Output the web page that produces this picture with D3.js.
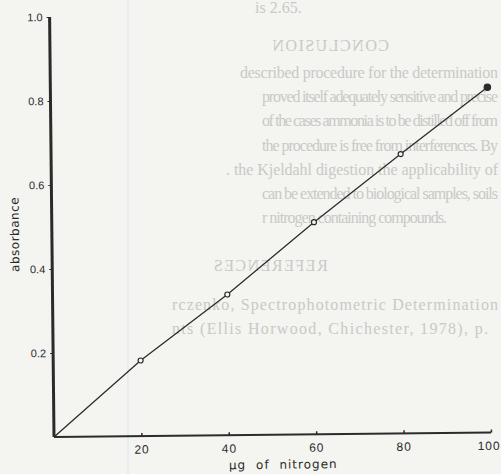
<!DOCTYPE html>
<html>
<head>
<meta charset="utf-8">
<script src="https://cdn.jsdelivr.net/npm/d3@7"></script>
<style>
  html, body { margin: 0; padding: 0; background: #f4f4f1; }
  svg { display: block; }
</style>
</head>
<body>
<svg id="chart"></svg>
<script>
// calibration data
var nitrogen = [0, 20, 40, 60, 80, 100];           // ug of nitrogen
var absorbance = [0, 0.18, 0.335, 0.505, 0.665, 0.822];
var xTicks = [20, 40, 60, 80, 100];
var yTicks = [0.2, 0.4, 0.6, 0.8, 1.0];

// text from the other side of the page that shows through the paper
var bleedLines = [
    "described procedure for the determination",
    "proved itself adequately sensitive and precise",
    "of the cases ammonia is to be distilled off from",
    "the procedure is free from interferences. By",
    ". the Kjeldahl digestion the applicability of",
    "can be extended to biological samples, soils",
    "r nitrogen containing compounds."
];
var refLines = [
    "rczenko, Spectrophotometric Determination",
    "nts (Ellis Horwood, Chichester, 1978), p."
];

var width = 501,
    height = 474,
    mLeft = 54,
    mRight = 491,
    mTop = 17,
    mBottom = 437;

var svg = d3.select("#chart")
    .attr("width", width)
    .attr("height", height);

svg.append("rect")
    .attr("width", width)
    .attr("height", height)
    .style("fill", "#f4f4f1");

// faint blue ruling line of the scan
svg.append("line")
    .attr("x1", 128).attr("x2", 128)
    .attr("y1", 0).attr("y2", height)
    .style("stroke", "#dcedf2")
    .style("stroke-width", 1.5);

var bleed = svg.append("g")
    .style("font-family", "'Liberation Serif', serif")
    .style("font-size", "16px")
    .style("fill", "#c9c9c6");

bleed.append("text")
    .attr("x", 255).attr("y", 13)
    .text("is 2.65.");

function mirrored(txt, cx, y) {
    bleed.append("text")
        .attr("transform", "translate(" + cx + "," + y + ") scale(-1,1)")
        .attr("text-anchor", "middle")
        .style("letter-spacing", "1.5px")
        .text(txt);
}
mirrored("CONCLUSION", 330, 51);
mirrored("REFERENCES", 270, 271);

bleed.selectAll("text.body")
    .data(bleedLines)
    .enter()
    .append("text")
    .attr("class", "body")
    .attr("x", function (d, i) { return i === 0 ? 240 : (i === 4 ? 226 : 262); })
    .attr("y", function (d, i) { return 78 + i * 24.2; })
    .attr("textLength", function (d, i) { return i === 6 ? 185 : (i === 0 ? 258 : (i === 4 ? 272 : 236)); })
    .attr("lengthAdjust", "spacing")
    .text(function (d) { return d; });

bleed.selectAll("text.ref")
    .data(refLines)
    .enter()
    .append("text")
    .attr("class", "ref")
    .attr("x", 172)
    .attr("y", function (d, i) { return 310 + i * 23.5; })
    .attr("textLength", function (d, i) { return i === 0 ? 326 : 316; })
    .attr("lengthAdjust", "spacing")
    .text(function (d) { return d; });

var x = d3.scaleLinear().domain([0, 100]).range([mLeft, mRight]);
var y = d3.scaleLinear().domain([0, 1]).range([mBottom, mTop]);

// the scan is slightly skewed
var g = svg.append("g")
    .attr("transform", "rotate(-0.6," + mLeft + "," + mBottom + ")")
    .style("font-family", "'DejaVu Sans', sans-serif")
    .style("fill", "#2b2b2b");

var xAxis = g.append("g")
    .attr("transform", "translate(0," + mBottom + ")")
    .call(d3.axisBottom(x).tickValues(xTicks).tickSize(-3).tickPadding(9).tickFormat(d3.format("d")));
xAxis.select(".domain").attr("d", "M" + mLeft + ",0H" + mRight)
    .style("stroke", "#2b2b2b").style("stroke-width", 2);
xAxis.selectAll(".tick line").style("stroke", "#2b2b2b").style("stroke-width", 1.5);
xAxis.selectAll(".tick text")
    .style("font-size", "12px")
    .style("letter-spacing", "1px")
    .style("fill", "#2b2b2b");
xAxis.selectAll(".tick text").filter(function (d) { return d === 100; })
    .attr("text-anchor", "end")
    .attr("dx", 9);

var yAxis = g.append("g")
    .attr("transform", "translate(" + mLeft + ",0)")
    .call(d3.axisLeft(y).tickValues(yTicks).tickSize(3).tickPadding(4).tickFormat(d3.format(".1f")));
yAxis.select(".domain").attr("d", "M0," + mBottom + "V" + mTop)
    .style("stroke", "#2b2b2b").style("stroke-width", 3);
yAxis.selectAll(".tick line").style("stroke", "#2b2b2b").style("stroke-width", 1);
yAxis.selectAll(".tick text")
    .style("font-size", "11px")
    .style("fill", "#2b2b2b");

g.append("text")
    .attr("transform", "translate(21,234) rotate(-90)")
    .attr("text-anchor", "middle")
    .style("font-size", "12px")
    .style("letter-spacing", "0.5px")
    .text("absorbance");

g.append("text")
    .attr("x", 283)
    .attr("y", 471)
    .attr("text-anchor", "middle")
    .style("font-size", "12px")
    .style("letter-spacing", "1px")
    .style("word-spacing", "5px")
    .text("\u00b5g of nitrogen");

var pts = nitrogen.map(function (d, i) { return [d, absorbance[i]]; });

g.append("path")
    .datum(pts)
    .attr("d", d3.line().x(function (d) { return x(d[0]); }).y(function (d) { return y(d[1]); }))
    .style("fill", "none")
    .style("stroke", "#2b2b2b")
    .style("stroke-width", 1.3);

g.selectAll("circle")
    .data(pts.slice(1))
    .enter()
    .append("circle")
    .attr("cx", function (d) { return x(d[0]); })
    .attr("cy", function (d) { return y(d[1]); })
    .attr("r", function (d, i) { return i === 4 ? 3.2 : 2.5; })
    .style("fill", function (d, i) { return i === 4 ? "#2b2b2b" : "#f4f4f1"; })
    .style("stroke", "#2b2b2b")
    .style("stroke-width", 1.2);
</script>
</body>
</html>
